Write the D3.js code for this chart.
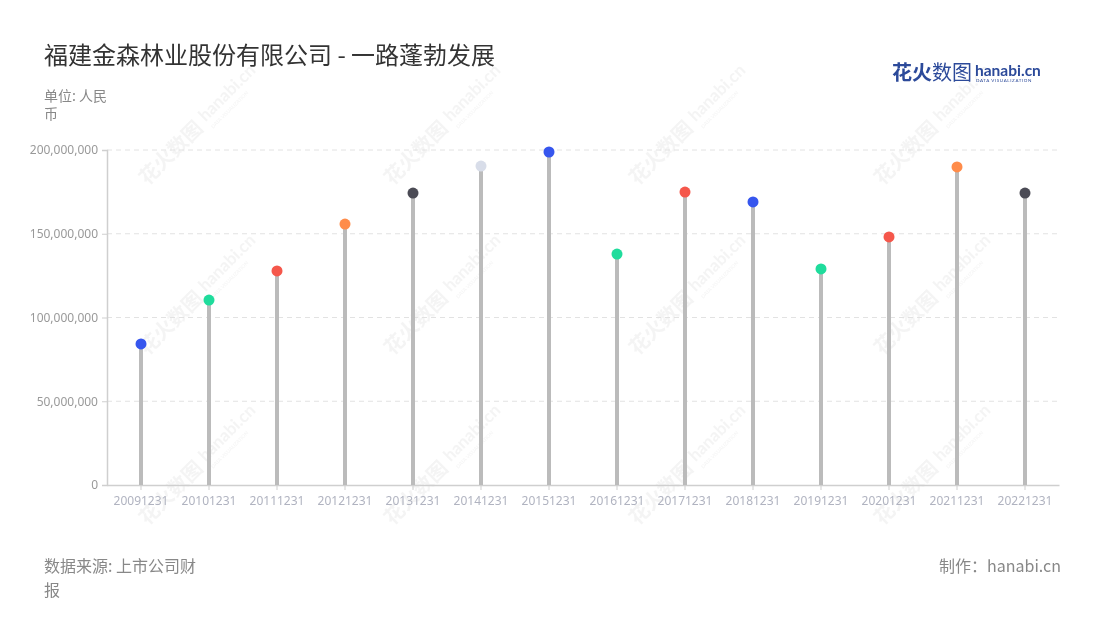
<!DOCTYPE html>
<html><head><meta charset="utf-8">
<script src="https://cdn.jsdelivr.net/npm/d3@7"></script>
<style>body{margin:0;background:#fff;}svg{display:block;font-family:"Noto Sans CJK SC","Noto Sans",sans-serif;}</style>
</head><body>
<svg id="c" width="1100" height="620"></svg>
<script>
const categories = ["20091231","20101231","20111231","20121231","20131231","20141231","20151231","20161231","20171231","20181231","20191231","20201231","20211231","20221231"];
const values = [84200000,110400000,127800000,155800000,174300000,190400000,198800000,137900000,174900000,169000000,129000000,148100000,189900000,174300000];
const pointColors = ["#3656ee","#1fdc9c","#f5574b","#ff8c4a","#4b4b55","#d8dde9","#3656ee","#1fdc9c","#f5574b","#3656ee","#1fdc9c","#f5574b","#ff8c4a","#4b4b55"];
const yTicks = [0,50000000,100000000,150000000,200000000];

const svg = d3.select("#c");
const x = d3.scaleBand().domain(categories).range([107,1059]);
const y = d3.scaleLinear().domain([0,200000000]).range([485,150]);

// watermarks
const wm = svg.append("g").attr("opacity",0.4);
[145,315,485].forEach(cy=>{[180,425,670,915].forEach(cx=>{
  const g = wm.append("g").attr("transform",`translate(${cx},${cy}) rotate(-45)`);
  g.append("text").attr("x",-52).attr("y",6).attr("font-size",20).attr("font-weight","bold").attr("fill","#e4e4e4").text("花火数图");
  g.append("text").attr("x",34).attr("y",2).attr("font-size",17).attr("font-weight","bold").attr("fill","#e4e4e4").attr("font-family","Lato, sans-serif").text("hanabi.cn");
  g.append("text").attr("x",35).attr("y",12).attr("font-size",5).attr("fill","#e4e4e4").attr("font-family","Lato, sans-serif").text("DATA VISUALIZATION");
});});

// grid
svg.append("g").selectAll("line").data(yTicks.filter(d=>d>0)).join("line")
  .attr("x1",107).attr("x2",1059).attr("y1",d=>y(d)).attr("y2",d=>y(d))
  .attr("stroke","#e2e2e2").attr("stroke-dasharray","5,4");

// y axis
const ya = svg.append("g").attr("transform","translate(107,0)")
  .call(d3.axisLeft(y).tickValues(yTicks).tickSize(5).tickPadding(4).tickFormat(d3.format(",")));
ya.select(".domain").attr("stroke","#cfcfcf").attr("stroke-width",1.5);
ya.selectAll(".tick line").attr("stroke","#cfcfcf");
ya.selectAll("text").attr("fill","#999").attr("font-size",12).attr("font-family","'Noto Sans',sans-serif");

// x axis
const xa = svg.append("g").attr("transform","translate(0,485)")
  .call(d3.axisBottom(x).tickSize(5).tickSizeOuter(0).tickPadding(6));
xa.select(".domain").attr("stroke","#cfcfcf").attr("stroke-width",1.5);
xa.selectAll(".tick line").attr("stroke","#cfcfcf");
xa.selectAll("text").attr("fill","#b0b3c0").attr("font-size",12).attr("font-family","'Noto Sans',sans-serif");

// stems
svg.append("g").selectAll("line").data(categories).join("line")
  .attr("x1",d=>x(d)+x.bandwidth()/2).attr("x2",d=>x(d)+x.bandwidth()/2)
  .attr("y1",y(0)).attr("y2",(d,i)=>y(values[i]))
  .attr("stroke","#bbbbbb").attr("stroke-width",4);
// dots
svg.append("g").selectAll("circle").data(categories).join("circle")
  .attr("cx",d=>x(d)+x.bandwidth()/2).attr("cy",(d,i)=>y(values[i]))
  .attr("r",5.5).attr("fill",(d,i)=>pointColors[i]);

// title
svg.append("text").attr("x",44).attr("y",64).attr("font-size",24).attr("fill","#333").text("福建金森林业股份有限公司 - 一路蓬勃发展");
svg.append("text").attr("x",44).attr("y",101).attr("font-size",14).attr("fill","#888").text("单位: 人民");
svg.append("text").attr("x",44).attr("y",119).attr("font-size",14).attr("fill","#888").text("币");

// logo
const lg = svg.append("g");
lg.append("text").attr("x",892).attr("y",80).attr("font-size",20).attr("font-weight","bold").attr("fill","#2c4a9a").text("花火");
lg.append("text").attr("x",932).attr("y",80).attr("font-size",20).attr("fill","#2c4a9a").text("数图");
lg.append("text").attr("x",975).attr("y",76).attr("font-size",15.5).attr("font-weight","bold").attr("fill","#2c4a9a").attr("font-family","Lato, sans-serif").text("hanabi.cn");
lg.append("text").attr("x",976).attr("y",82).attr("font-size",4.5).attr("fill","#2c4a9a").attr("font-family","Lato, sans-serif").attr("letter-spacing",0.6).text("DATA VISUALIZATION");

// footer
svg.append("text").attr("x",44).attr("y",572).attr("font-size",16).attr("fill","#888").text("数据来源: 上市公司财");
svg.append("text").attr("x",44).attr("y",596).attr("font-size",16).attr("fill","#888").text("报");
svg.append("text").attr("x",1061).attr("y",572).attr("text-anchor","end").attr("font-size",16).attr("fill","#888").text("制作：hanabi.cn");
</script>
</body></html>
